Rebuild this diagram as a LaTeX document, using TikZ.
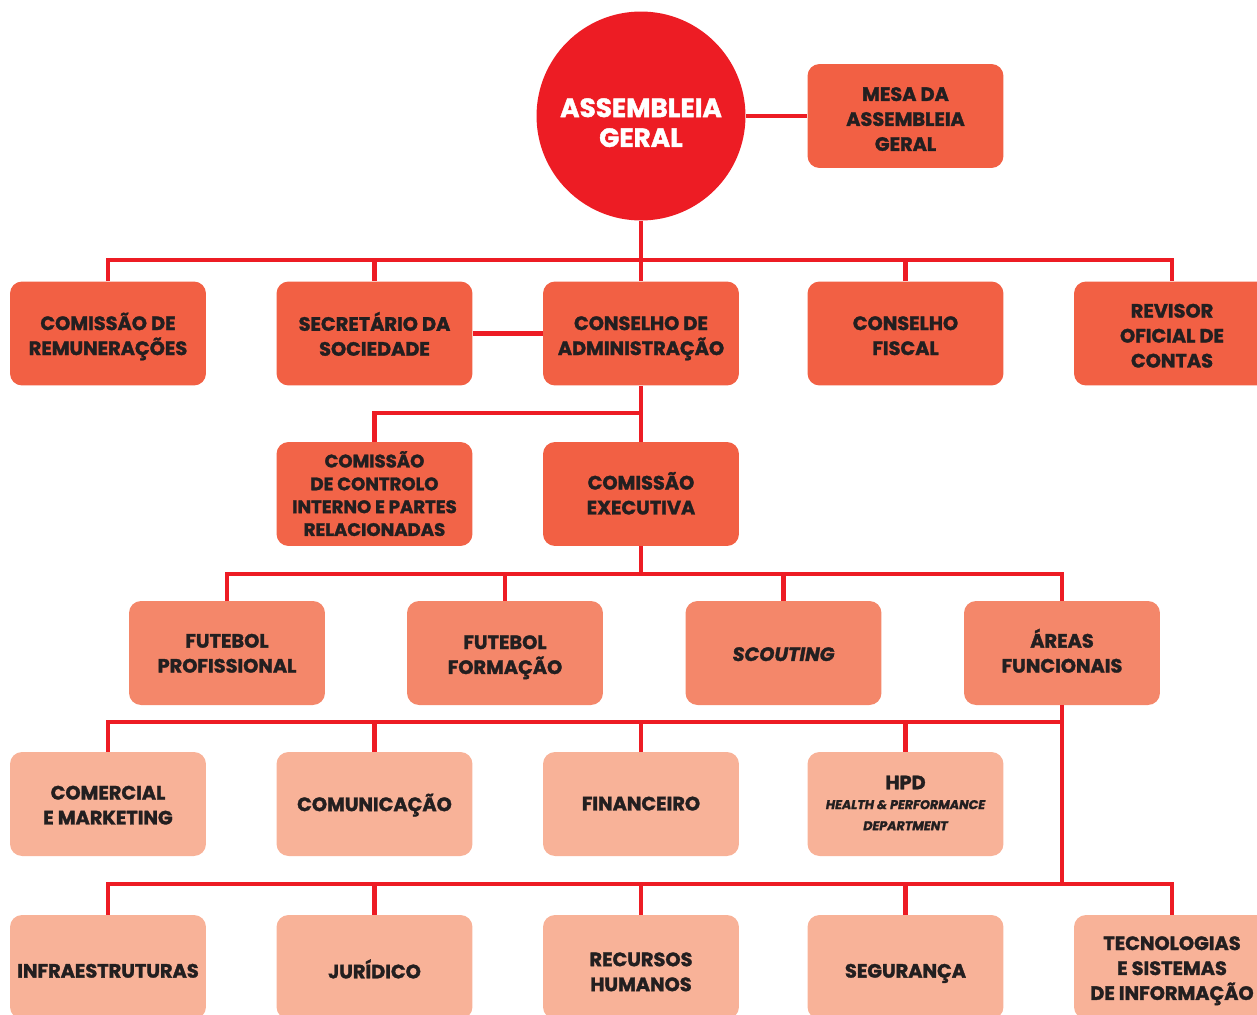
\documentclass[tikz,border=0pt]{standalone}
\usepackage{fontspec}
\setmainfont{Poppins}[BoldFeatures={FakeBold=1.6},BoldItalicFeatures={FakeBold=1.6}]
\usetikzlibrary{calc}
\definecolor{agred}{HTML}{ED1C24}
\definecolor{lvA}{HTML}{F26044}
\definecolor{lvB}{HTML}{F4876A}
\definecolor{lvC}{HTML}{F8B298}
\definecolor{txt}{HTML}{231F20}
\newcommand\bt[2][1.7pt]{\raisebox{-#1}[\height][\depth]{\begin{tabular}{@{}c@{}}#2\end{tabular}}}
\tikzset{
  orgbox/.style={draw=none, rounded corners=0.24cm, minimum width=3.92cm, minimum height=2.08cm,
    text=txt, font=\fontsize{11}{14.2}\selectfont\bfseries, inner sep=0pt},
  boxA/.style={orgbox, fill=lvA},
  boxB/.style={orgbox, fill=lvB},
  boxC/.style={orgbox, fill=lvC},
  conn/.style={draw=agred, line width=2.3pt}
}
\begin{document}
\begin{tikzpicture}[x=0.02cm, y=-0.02cm]
\useasboundingbox (0,0) rectangle (1257,1014);
\clip (0,0) rectangle (1257,1014);
% nodes
\node[circle, fill=agred, minimum size=4.18cm, inner sep=0pt, text=white,
  font=\fontsize{15}{17}\selectfont\bfseries] (ag) at (641,116) {\bt[5.7pt]{ASSEMBLEIA\\GERAL}};
\node[boxA] (mesa) at (905.5,116) {\bt[2.8pt]{MESA DA\\ASSEMBLEIA\\GERAL}};
% row 2
\node[boxA] (cr) at (108,333.5) {\bt[2.3pt]{COMISSÃO DE\\REMUNERAÇÕES}};
\node[boxA] (sd) at (374.5,333.5) {\bt[2.3pt]{SECRETÁRIO DA\\SOCIEDADE}};
\node[boxA] (ca) at (641,333.5) {\bt[2.3pt]{CONSELHO DE\\ADMINISTRAÇÃO}};
\node[boxA] (cf) at (905.5,333.5) {\bt[2.3pt]{CONSELHO\\FISCAL}};
\node[boxA] (roc) at (1172,333.5) {\bt[2.3pt]{REVISOR\\OFICIAL DE\\CONTAS}};
% row 3
\node[boxA, fill=lvA!90!lvB, font=\fontsize{10.3}{13}\selectfont\bfseries] (cc) at (374.5,494) {\bt{COMISSÃO\\DE CONTROLO\\INTERNO E PARTES\\RELACIONADAS}};
\node[boxA] (ce) at (641,494) {\bt{COMISSÃO\\EXECUTIVA}};
% row 4
\node[boxB] (fp) at (227,653) {\bt[1.2pt]{FUTEBOL\\PROFISSIONAL}};
\node[boxB] (ff) at (505,653) {\bt[2pt]{FUTEBOL\\FORMAÇÃO}};
\node[boxB] (sc) at (783.5,653) {\bt{\itshape SCOUTING}};
\node[boxB] (af) at (1062,653) {\bt[0.8pt]{ÁREAS\\FUNCIONAIS}};
% row 5
\node[boxC] (cm) at (108,804) {\bt{COMERCIAL\\E MARKETING}};
\node[boxC] (co) at (374.5,804) {\bt[1.2pt]{COMUNICAÇÃO}};
\node[boxC] (fi) at (641,804) {\bt[0.8pt]{FINANCEIRO}};
\node[boxC, font=\fontsize{7.2}{12}\selectfont\bfseries] (hpd) at (905.5,804) {\bt[0.85pt]{{\fontsize{11}{12}\selectfont HPD}\\[-0.7pt]
  \itshape HEALTH \& PERFORMANCE\\
  \itshape DEPARTMENT}};
% row 6
\node[boxC] (inf) at (108,967) {\bt[3.2pt]{INFRAESTRUTURAS}};
\node[boxC] (ju) at (374.5,967) {\bt[3.2pt]{JURÍDICO}};
\node[boxC] (rh) at (641,967) {\bt[3.8pt]{RECURSOS\\HUMANOS}};
\node[boxC] (se) at (905.5,967) {\bt[3.2pt]{SEGURANÇA}};
\node[boxC] (ti) at (1172,967) {\bt{TECNOLOGIAS\\E SISTEMAS\\DE INFORMAÇÃO}};
% bus coordinates
\coordinate (b2) at (641,260);
\coordinate (b3) at (641,413);
\coordinate (b4) at (641,574);
\coordinate (b5) at (1062,722);
\coordinate (b6) at (1062,884);
% connectors
\draw[conn] (ag.east) -- (mesa.west);
\draw[conn] (ag.south) -- (ca.north);
\draw[conn] (cr.north) |- (b2) -| (roc.north);
\draw[conn] (sd.north) -- (sd.north |- b2);
\draw[conn] (cf.north) -- (cf.north |- b2);
\draw[conn] (sd.east) -- (ca.west);
\draw[conn] (ca.south) -- (ce.north);
\draw[conn] (cc.north) |- (b3);
\draw[conn] (ce.south) -- (b4);
\draw[conn] (fp.north) |- (b4) -| (af.north);
\draw[conn] (ff.north) -- (ff.north |- b4);
\draw[conn] (sc.north) -- (sc.north |- b4);
\draw[conn] (af.south) -- (b6);
\draw[conn] (cm.north) |- (b5);
\draw[conn] (co.north) -- (co.north |- b5);
\draw[conn] (fi.north) -- (fi.north |- b5);
\draw[conn] (hpd.north) -- (hpd.north |- b5);
\draw[conn] (inf.north) |- (b6) -| (ti.north);
\draw[conn] (ju.north) -- (ju.north |- b6);
\draw[conn] (rh.north) -- (rh.north |- b6);
\draw[conn] (se.north) -- (se.north |- b6);
\end{tikzpicture}
\end{document}
